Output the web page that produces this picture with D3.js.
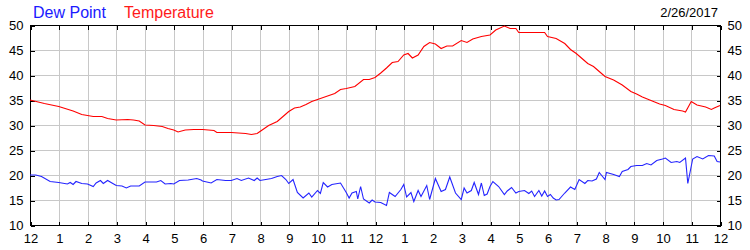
<!DOCTYPE html>
<html>
<head>
<meta charset="utf-8">
<script src="https://cdn.jsdelivr.net/npm/d3@7"></script>
<style>
  html, body { margin: 0; padding: 0; background: #fff; }
  svg { display: block; }
</style>
</head>
<body>
<svg id="chart" width="750" height="250"></svg>
<script>
// ---- data ----
const dateLabel = "2/26/2017";
const seriesNames = ["Dew Point", "Temperature"];
const hourTickLabels = ["12","1","2","3","4","5","6","7","8","9","10","11","12","1","2","3","4","5","6","7","8","9","10","11","12"];
const yTicks = [10, 15, 20, 25, 30, 35, 40, 45, 50];

const tempHours = [0,0.5,1,1.5,1.8,2,2.2,2.5,2.7,3,3.4,3.6,3.8,4,4.3,4.6,4.8,5,5.15,5.4,5.7,6,6.4,6.5,7.0,7.5,7.7,7.9,8,8.3,8.6,8.8,9,9.2,9.4,9.6,9.8,10,10.3,10.6,10.8,11,11.3,11.6,11.8,12,12.2,12.4,12.6,12.8,13,13.15,13.3,13.5,13.7,13.9,14.1,14.3,14.5,14.7,15,15.2,15.4,15.7,16,16.2,16.5,16.7,16.9,17,17.9,18,18.3,18.6,18.8,19,19.2,19.4,19.6,19.8,20,20.3,20.6,20.9,21.1,21.3,21.6,21.9,22.1,22.4,22.7,22.8,23,23.2,23.5,23.7,23.8,24];
const tempValues = [35,34.3,33.7,32.8,32.1,31.9,31.7,31.7,31.3,31,31.1,31,30.8,30,29.9,29.7,29.3,29,28.6,29,29.1,29.1,28.9,28.5,28.5,28.3,28.1,28.3,28.7,29.9,30.7,31.7,32.7,33.4,33.6,34.1,34.7,35.1,35.7,36.3,37.1,37.3,37.7,39.1,39.1,39.5,40.4,41.4,42.5,42.7,44,44.3,43.4,44,45.7,46.5,46.2,45.3,45.8,45.8,46.9,46.5,47.2,47.7,48,49,49.8,49.3,49.3,48.5,48.5,47.7,47.3,46.3,45.1,44.3,43.3,42.3,41.7,40.7,39.7,39,38,36.7,36.2,35.6,34.9,34.2,33.9,33.1,32.8,32.6,34.7,34,33.6,33.1,33.4,33.9];

const dewHours = [0,0.2,0.4,0.7,1,1.3,1.4,1.5,1.6,1.8,2,2.2,2.3,2.45,2.55,2.7,2.85,3,3.2,3.35,3.5,3.8,4,4.4,4.55,4.7,4.9,5,5.2,5.5,5.8,5.95,6,6.3,6.5,6.8,7,7.2,7.35,7.6,7.8,7.9,8,8.2,8.4,8.6,8.75,8.9,9,9.15,9.3,9.5,9.7,9.8,10,10.1,10.2,10.35,10.5,10.8,11,11.1,11.2,11.35,11.4,11.5,11.6,11.8,11.9,12,12.2,12.4,12.5,12.7,12.9,13,13.1,13.25,13.35,13.5,13.6,13.8,13.9,14.1,14.3,14.45,14.6,14.8,15,15.1,15.2,15.35,15.45,15.6,15.7,15.8,15.9,16,16.1,16.3,16.5,16.6,16.75,16.9,17,17.2,17.35,17.45,17.55,17.7,17.8,17.9,18,18.1,18.2,18.3,18.4,18.6,18.8,18.95,19.1,19.3,19.4,19.55,19.7,19.8,20,20.05,20.3,20.5,20.6,20.8,20.9,21.1,21.3,21.45,21.6,21.8,22,22.1,22.3,22.5,22.6,22.8,22.88,23.05,23.2,23.4,23.6,23.8,23.9,24];
const dewValues = [20,20,19.7,18.7,18.5,18.2,18.5,18.1,18.7,18.3,18.2,17.7,18.4,18.9,18.3,18.9,18.4,17.9,17.8,17.4,17.8,17.8,18.6,18.6,18.9,18.2,18.3,18.2,18.9,19,19.3,19,18.8,18.4,19.1,18.9,18.9,19.3,18.9,19.4,18.9,19.4,18.9,19.1,19.3,19.7,19.9,19.1,18.3,19.1,16.5,15.4,16.4,15.6,16.9,16.3,18.5,17.6,18.1,18.4,16.5,15.4,16.4,16.7,15.2,17.7,15.2,14.4,15,14.6,14.5,13.9,16.5,15.7,17.1,18.1,15.6,16.5,14.7,16.9,15.7,17.9,15.1,19.3,16.7,17.1,19.6,16.4,15.1,17.4,16.4,16.9,18.5,16.1,18.4,15.9,16.2,17.7,18.7,17.7,16.1,16.8,17.5,16.4,16.7,16.9,16.3,16.8,15.7,16.9,15.8,16.8,15.7,16.1,15.4,15,15.1,16.4,17.6,17.1,19.1,18.3,18.9,18.8,19.2,20.5,19.1,20.5,20.1,19.7,20.7,21.1,21.7,21.9,21.9,22.3,22,22.9,23.2,23.4,22.5,22.7,22.5,23.4,18.3,23.2,23.7,23.2,23.9,23.8,22.7,22.6];

// ---- layout ----
const svg = d3.select("#chart");
const pL = 30, pR = 720, pT = 25, pB = 225;
const x = d3.scaleLinear().domain([0, 24]).range([pL, pR]);
const y = d3.scaleLinear().domain([10, 50]).range([pB, pT]);
const hourTicks = d3.range(0, 25);
const font = "'Liberation Sans', Arial, sans-serif";

// grid
const grid = svg.append("g").attr("stroke", "#c8c8c8").attr("stroke-width", 1).attr("shape-rendering", "crispEdges");
grid.selectAll("line.v").data(hourTicks.slice(1, -1)).enter().append("line")
  .attr("x1", d => Math.round(x(d)) + 0.5).attr("x2", d => Math.round(x(d)) + 0.5)
  .attr("y1", pT).attr("y2", pB);
grid.selectAll("line.h").data(yTicks.slice(1, -1)).enter().append("line")
  .attr("y1", d => Math.round(y(d)) + 0.5).attr("y2", d => Math.round(y(d)) + 0.5)
  .attr("x1", pL).attr("x2", pR);

// axes with inward ticks
const axB = d3.axisBottom(x).tickValues(hourTicks).tickSize(-4).tickPadding(8).tickFormat((d, i) => hourTickLabels[i]);
const axT = d3.axisTop(x).tickValues(hourTicks).tickSize(-4).tickFormat("");
const axL = d3.axisLeft(y).tickValues(yTicks).tickSize(-4).tickPadding(7).tickFormat(d3.format("d"));
const axR = d3.axisRight(y).tickValues(yTicks).tickSize(-4).tickPadding(7).tickFormat(d3.format("d"));

function styleAxis(g) {
  g.attr("shape-rendering", "crispEdges");
  g.select(".domain").remove();
  g.selectAll(".tick line").attr("stroke", "#000");
  g.selectAll("text").attr("fill", "#000").style("font-family", font).style("font-size", "13px");
}
svg.append("g").attr("transform", `translate(0.5,${pB + 0.5})`).call(axB).call(styleAxis);
svg.append("g").attr("transform", `translate(0.5,${pT + 0.5})`).call(axT).call(styleAxis);
svg.append("g").attr("transform", `translate(${pL + 0.5},0.5)`).call(axL).call(styleAxis);
svg.append("g").attr("transform", `translate(${pR + 0.5},0.5)`).call(axR).call(styleAxis);
svg.append("rect").attr("x", pL + 0.5).attr("y", pT + 0.5).attr("width", pR - pL).attr("height", pB - pT)
  .attr("fill", "none").attr("stroke", "#000").attr("shape-rendering", "crispEdges");

// lines
const line = d3.line().x(d => x(d[0])).y(d => y(d[1]));
const dewData = dewHours.map((h, i) => [h, dewValues[i]]);
const tempData = tempHours.map((h, i) => [h, tempValues[i]]);
svg.append("path").datum(dewData).attr("d", line).attr("fill", "none").attr("stroke", "#2424ff").attr("stroke-width", 1.1);
svg.append("path").datum(tempData).attr("d", line).attr("fill", "none").attr("stroke", "#ff0000").attr("stroke-width", 1.1);

// legend & date
svg.append("text").attr("x", 33).attr("y", 18).text(seriesNames[0])
  .attr("fill", "#1a1aff").style("font-family", font).style("font-size", "16px");
svg.append("text").attr("x", 124).attr("y", 18).text(seriesNames[1])
  .attr("fill", "#ff1a1a").style("font-family", font).style("font-size", "16px");
svg.append("text").attr("x", 718).attr("y", 17).attr("text-anchor", "end").text(dateLabel)
  .attr("fill", "#000").style("font-family", font).style("font-size", "13px");
</script>
</body>
</html>
